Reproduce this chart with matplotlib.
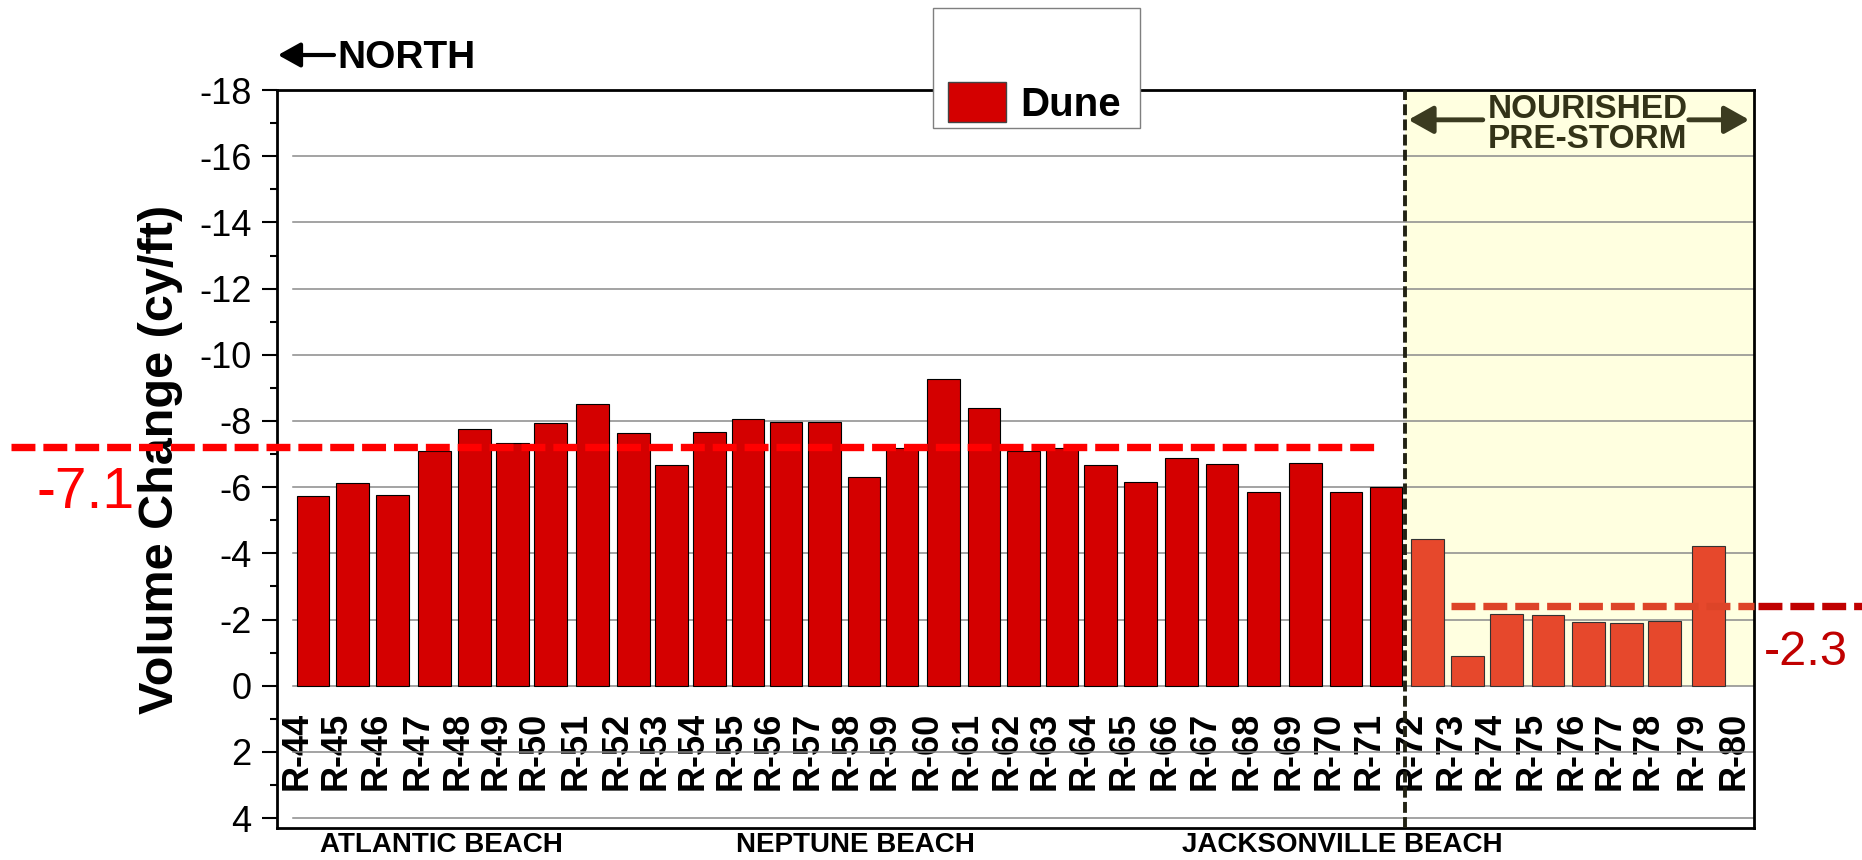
import numpy as np
import matplotlib.pyplot as plt
from matplotlib.patches import Rectangle, Patch
from matplotlib.ticker import MultipleLocator
from matplotlib.transforms import blended_transform_factory

plt.rcParams['axes.unicode_minus'] = False
plt.rcParams['font.family'] = ['Liberation Sans', 'DejaVu Sans']

# profile stations (north -> south) and their alongshore position along the chart
stations = ['R-44', 'R-45', 'R-46', 'R-47', 'R-48', 'R-49', 'R-50', 'R-51', 'R-52',
            'R-53', 'R-54', 'R-55', 'R-56', 'R-57', 'R-58', 'R-59', 'R-60', 'R-61',
            'R-62', 'R-63', 'R-64', 'R-65', 'R-66', 'R-67', 'R-68', 'R-69', 'R-70',
            'R-71', 'R-72', 'R-73', 'R-74', 'R-75', 'R-76', 'R-77', 'R-78', 'R-79', 'R-80']
station_pos = [0.50, 1.49, 2.48, 3.53, 4.54, 5.49, 6.44, 7.48, 8.50,
               9.46, 10.41, 11.37, 12.32, 13.28, 14.27, 15.22, 16.26, 17.27,
               18.25, 19.22, 20.18, 21.19, 22.21, 23.22, 24.25, 25.31, 26.32,
               27.32, 28.36, 29.36, 30.33, 31.37, 32.39, 33.33, 34.28, 35.38, 36.43]

# dune volume change (cy/ft), R-44 .. R-71 (not nourished)
dune_north = [-5.72, -6.14, -5.76, -7.08, -7.76, -7.34, -7.93, -8.50, -7.63,
              -6.66, -7.67, -8.07, -7.98, -7.97, -6.30, -7.17, -9.27, -8.38,
              -7.10, -7.17, -6.67, -6.16, -6.88, -6.69, -5.85, -6.72, -5.85, -6.00]
# R-72 .. R-79 (nourished pre-storm)
dune_nourished = [-4.43, -0.89, -2.16, -2.13, -1.92, -1.89, -1.97, -4.22]

avg_level = [-7.2, -2.4]
avg_text = ['-7.1', '-2.3']

beach_names = ['ATLANTIC BEACH', 'NEPTUNE BEACH', 'JACKSONVILLE BEACH']
beach_x = [4.13, 14.46, 26.63]

nourish_start = 28.21
xmax = 36.93
ylim = (4.3, -18)

fig = plt.figure(figsize=(18.62, 8.6), dpi=100)
ax = fig.add_axes([0.1486, 0.0372, 0.7934, 0.8581])
ax.set_xlim(0, xmax)
ax.set_ylim(*ylim)

# nourished zone shading
ax.fill_between([nourish_start, xmax], 0, ylim[1], color='#FFFFE0', lw=0, zorder=0)

# grid
for v in np.arange(-16, 5, 2):
    ax.axhline(v, xmin=0.011, color='#8a8a8a', lw=1.1, zorder=0.5)

n = len(dune_north)
ax.bar(station_pos[:n], dune_north, width=0.82, align='edge', color='#D40000',
       edgecolor='black', lw=0.8, zorder=2)
ax.bar(station_pos[n:n + len(dune_nourished)], dune_nourished, width=0.82, align='edge',
       color='#E6482C', edgecolor='#333333', lw=0.8, zorder=2)

ax.axvline(nourish_start, color='#222214', lw=2.8, dashes=(2.8, 1.1), zorder=4)

# average lines, running out into the margins
to_data = ax.transData.inverted()
x_fig_left = to_data.transform(fig.transFigure.transform((11 / 1862, 0)))[0]
x_fig_right = to_data.transform(fig.transFigure.transform((1.0, 0)))[0]
ax.plot([x_fig_left, 27.56], [avg_level[0]] * 2, color='#FF0000', lw=5.3,
        dashes=(3.25, 1.08), clip_on=False, zorder=5)
ax.plot([station_pos[n + 1], xmax], [avg_level[1]] * 2, color='#DD4428', lw=5.3,
        dashes=(3.25, 1.08), clip_on=False, zorder=5)
ax.plot([xmax + 0.1, x_fig_right], [avg_level[1]] * 2, color='#C00000', lw=5.3,
        dashes=(3.25, 1.08), clip_on=False, zorder=5)
fig.text(86 / 1862, 1 - 508 / 860, avg_text[0], color='#FF0000', fontsize=41,
         ha='center', va='baseline')
fig.text(1806 / 1862, 1 - 665 / 860, avg_text[1], color='#C00000', fontsize=35,
         ha='center', va='baseline')

# axes styling
ax.set_xticks([])
ax.set_yticks(np.arange(-18, 5, 2))
ax.yaxis.set_minor_locator(MultipleLocator(1))
ax.tick_params(axis='y', which='major', direction='out', length=11, width=1.5,
               labelsize=26, pad=7)
ax.tick_params(axis='y', which='minor', direction='out', length=5, width=1.5)
for s in ax.spines.values():
    s.set_linewidth(2)
ax.set_ylabel('Volume Change (cy/ft)', fontsize=35, fontweight='bold', labelpad=12)

# station labels hang just below the zero line
frac0 = (0 - ylim[0]) / (ylim[1] - ylim[0])
sec = ax.secondary_xaxis(frac0)
sec.set_xticks(station_pos, labels=stations, rotation=90, fontsize=26, fontweight='bold')
sec.tick_params(length=0, pad=19)
sec.spines['bottom'].set_visible(False)

# beach names under the frame
tr = blended_transform_factory(ax.transData, fig.transFigure)
for name, bx in zip(beach_names, beach_x):
    ax.text(bx, 1 - 845 / 860, name, transform=tr, ha='center', va='center',
            fontsize=20, fontweight='bold')

# nourished annotation
mid = (nourish_start + xmax) / 2 + 0.2
ax.text(mid, -16.95, 'NOURISHED\nPRE-STORM', ha='center', va='center', fontsize=24,
        fontweight='bold', color='#333318', linespacing=0.95, zorder=6)
arrow = dict(arrowstyle='-|>,head_length=0.5,head_width=0.28', lw=3.5, color='#3b3b20',
             mutation_scale=30, shrinkA=0, shrinkB=0)
ax.annotate('', xy=(nourish_start + 0.08, -17.1), xytext=(30.15, -17.1), arrowprops=arrow)
ax.annotate('', xy=(xmax - 0.12, -17.1), xytext=(35.3, -17.1), arrowprops=arrow)

# NORTH marker
fig.text(337 / 1862, 1 - 68 / 860, 'NORTH', fontsize=28, fontweight='bold', va='baseline')
ax.annotate('', xy=(278 / 1862, 1 - 55 / 860), xytext=(334 / 1862, 1 - 55 / 860),
            xycoords='figure fraction', annotation_clip=False,
            arrowprops=dict(arrowstyle='-|>,head_length=0.45,head_width=0.25', lw=3,
                            color='black', mutation_scale=30, shrinkA=0, shrinkB=0))

# legend box
fig.patches.append(Rectangle((933 / 1862, 1 - 128 / 860), 207 / 1862, 120 / 860,
                             transform=fig.transFigure, facecolor='white',
                             edgecolor='#7f7f7f', lw=1, zorder=3))
fig.legend(handles=[Patch(facecolor='#D40000', edgecolor='#444444')], labels=['Dune'],
           loc='lower left', bbox_to_anchor=(948 / 1862, 1 - 124 / 860), frameon=False,
           borderpad=0, borderaxespad=0, handlelength=1.45, handleheight=1.15,
           handletextpad=0.35, prop=dict(weight='bold', size=29))

fig.savefig('out.png', dpi=100)
